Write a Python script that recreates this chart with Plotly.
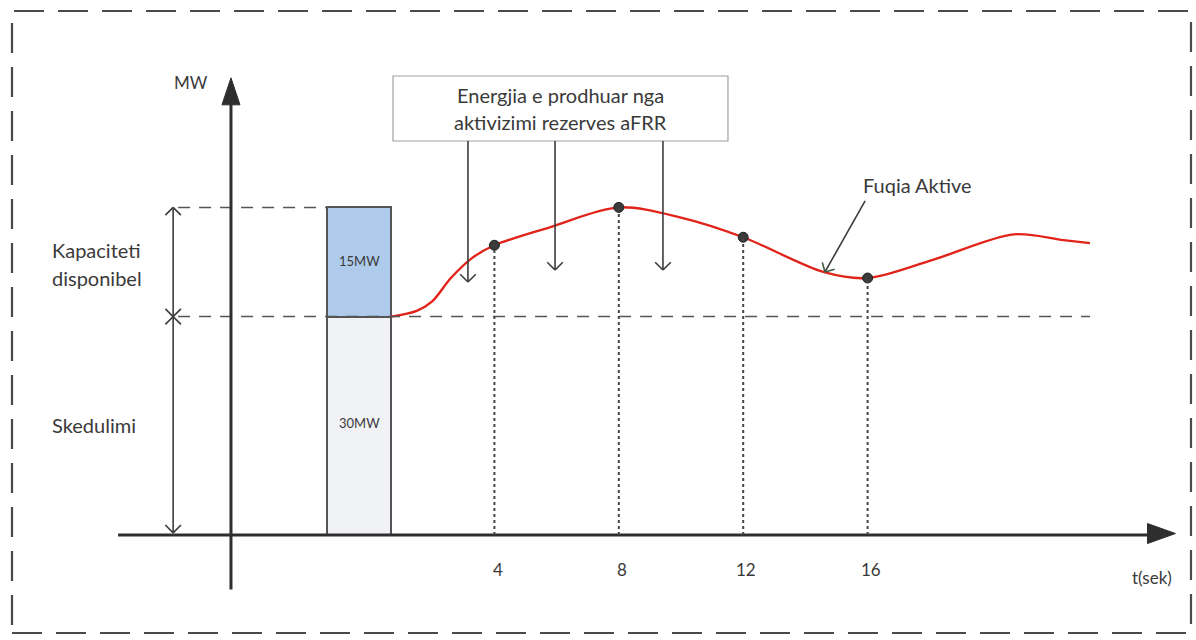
import math
import plotly.graph_objects as go

# ---------------- data ----------------
curve_t = [0.68, 1.5, 2.0, 2.6, 3.3, 4.0, 5.8, 8.0, 10.0, 12.0, 14.6, 16.0, 18.1, 20.7, 22.3, 23.15]
curve_mw = [30.0, 30.8, 32.1, 35.3, 38.1, 39.8, 42.3, 45.0, 43.6, 40.9, 36.1, 35.3, 37.8, 41.3, 40.5, 40.1]
dot_t = [4, 8, 12, 16]
dot_mw = [39.8, 45.0, 40.9, 35.3]
tick_labels = ["4", "8", "12", "16"]
schedule_mw = 30
capacity_mw = 15
bar_labels = ["30MW", "15MW"]
box_text = ["Energjia e prodhuar nga", "aktivizimi rezerves aFRR"]

# ---------------- scale (pixels per unit) ----------------
W, H = 1196, 640
PX_T = 31.1      # px per second
PX_MW = 7.28     # px per MW
X0_PX = 370      # pixel of t = 0
Y0_PX = 535      # pixel of MW = 0
x_range = [-X0_PX / PX_T, (W - X0_PX) / PX_T]
y_range = [(Y0_PX - H) / PX_MW, Y0_PX / PX_MW]

INK = "#3c3c3c"
TXT = "#3a3a3a"
RED = "#e2231a"
FONT = "Lato"

fig = go.Figure()
shapes = []
annotations = []


def seg(x0, y0, x1, y1, color=INK, width=2, dash="solid"):
    shapes.append(dict(type="line", xref="x", yref="y", x0=x0, y0=y0, x1=x1, y1=y1,
                       line=dict(color=color, width=width, dash=dash), layer="above"))


def chevron(tx, ty, dx, dy, size=11, ang=45, color=INK, width=1.6):
    # dx, dy : screen direction the arrow points (y downwards)
    n = math.hypot(dx, dy)
    ux, uy = dx / n, dy / n
    for s in (1, -1):
        a = math.radians(ang) * s
        rx = ux * math.cos(a) - uy * math.sin(a)
        ry = ux * math.sin(a) + uy * math.cos(a)
        wx = tx - rx * size / PX_T
        wy = ty + ry * size / PX_MW
        seg(wx, wy, tx, ty, color=color, width=width)


def triangle(tx, ty, dx, dy, length=26, half=9, color="#2e2e2e"):
    n = math.hypot(dx, dy)
    ux, uy = dx / n, dy / n
    bx, by = -ux * length, -uy * length
    px_pts = [(0, 0), (bx - uy * half, by + ux * half), (bx + uy * half, by - ux * half)]
    pts = [(tx + p[0] / PX_T, ty - p[1] / PX_MW) for p in px_pts]
    path = "M " + " L ".join(f"{a},{b}" for a, b in pts) + " Z"
    shapes.append(dict(type="path", xref="x", yref="y", path=path,
                       fillcolor=color, line=dict(color=color, width=1), layer="above"))


def label(x, y, text, size=16, xanchor="center", color=TXT):
    annotations.append(dict(x=x, y=y, xref="x", yref="y", text=text, showarrow=False,
                            xanchor=xanchor, yanchor="middle",
                            font=dict(family=FONT, size=size, color=color)))


# outer dashed frame
shapes.append(dict(type="rect", xref="paper", yref="paper", x0=12 / W, x1=1191 / W,
                   y0=1 - 633 / H, y1=1 - 11 / H,
                   line=dict(color="#4a4a4a", width=2.2, dash="30px,14px"), layer="below"))

# bars (schedule + available capacity)
bar_x = -0.35
bar_w = 2.06
fig.add_trace(go.Bar(x=[bar_x], y=[schedule_mw], base=[0], width=[bar_w],
                     marker=dict(color="#f1f2f6", line=dict(color="#555555", width=2)),
                     showlegend=False, hoverinfo="skip"))
fig.add_trace(go.Bar(x=[bar_x], y=[capacity_mw], base=[schedule_mw], width=[bar_w],
                     marker=dict(color="#aecbeb", line=dict(color="#555555", width=2)),
                     showlegend=False, hoverinfo="skip"))
label(bar_x, schedule_mw / 2 + 0.4, bar_labels[0], size=13)
label(bar_x, schedule_mw + capacity_mw / 2 + 0.2, bar_labels[1], size=13)

top_mw = schedule_mw + capacity_mw
left_t = -6.17
bar_left = bar_x - bar_w / 2
# dashed level lines
seg(left_t, top_mw, bar_left, top_mw, color="#555555", width=1.5, dash="12px,9px")
seg(left_t, schedule_mw, curve_t[-1], schedule_mw, color="#555555", width=1.5, dash="12px,9px")

# dimension arrows on the left
dim_t = -6.33
seg(dim_t, top_mw, dim_t, 0.3, width=1.6)
chevron(dim_t, top_mw, 0, -1)
chevron(dim_t, schedule_mw, 0, 1)
chevron(dim_t, schedule_mw, 0, -1)
chevron(dim_t, 0.3, 0, 1)
label(-10.3, 39.2, "Kapaciteti", size=20, xanchor="left")
label(-10.3, 35.3, "disponibel", size=20, xanchor="left")
label(-10.3, 15.1, "Skedulimi", size=20, xanchor="left")

# axes
yaxis_t = -4.47
seg(yaxis_t, -7.5, yaxis_t, 60.0, color="#2e2e2e", width=3)
triangle(yaxis_t, 62.8, 0, -1, length=27, half=9)
label(-5.75, 62.2, "MW", size=17)
seg(-8.1, 0, 25.0, 0, color="#2e2e2e", width=3)
triangle(25.9, 0.2, 1, 0, length=28, half=10)
label(25.15, -5.9, "t(sek)", size=17)
for t, lab in zip(dot_t, tick_labels):
    label(t + 0.1, -4.8, lab, size=17)

# dotted drop lines
for t, v in zip(dot_t, dot_mw):
    seg(t, 0, t, v, color="#444444", width=2, dash="dot")

# active power curve
fig.add_trace(go.Scatter(x=curve_t, y=curve_mw, mode="lines",
                         line=dict(color=RED, width=2.4, shape="spline", smoothing=0.9),
                         showlegend=False, hoverinfo="skip"))
fig.add_trace(go.Scatter(x=dot_t, y=dot_mw, mode="markers",
                         marker=dict(color="#3a3a3a", size=10, line=dict(color="#222", width=1)),
                         showlegend=False, hoverinfo="skip"))

# text box with arrows
box_t0, box_t1 = 0.74, 11.51
box_y0, box_y1 = 54.12, 63.05
shapes.append(dict(type="rect", xref="x", yref="y", x0=box_t0, x1=box_t1, y0=box_y0, y1=box_y1,
                   fillcolor="white", line=dict(color="#a0a0a0", width=1.2), layer="above"))
label((box_t0 + box_t1) / 2, 60.5, box_text[0], size=20)
label((box_t0 + box_t1) / 2, 56.7, box_text[1], size=20)
for t, tip in [(3.15, 34.75), (5.95, 36.4), (9.42, 36.4)]:
    seg(t, box_y0, t, tip, width=1.6)
    chevron(t, tip, 0, 1, size=11)

# Fuqia Aktive label + pointer
label(17.6, 48.1, "Fuqia Aktive", size=20)
tip_t, tip_mw = 14.63, 36.13
tail_t, tail_mw = 15.92, 45.9
seg(tail_t, tail_mw, tip_t, tip_mw, width=1.6)
chevron(tip_t, tip_mw, (tip_t - tail_t) * PX_T, -(tip_mw - tail_mw) * PX_MW, size=10,
        color="#3d5a3d")

fig.update_layout(
    width=W, height=H, margin=dict(l=0, r=0, t=0, b=0),
    paper_bgcolor="white", plot_bgcolor="white",
    xaxis=dict(range=x_range, visible=False, fixedrange=True),
    yaxis=dict(range=y_range, visible=False, fixedrange=True),
    shapes=shapes, annotations=annotations, barmode="overlay", bargap=0,
    font=dict(family=FONT, color=TXT),
)
fig.write_html("out.html", config={"displayModeBar": False},
               post_script="document.body.style.margin='0px';document.body.style.overflow='hidden';")
